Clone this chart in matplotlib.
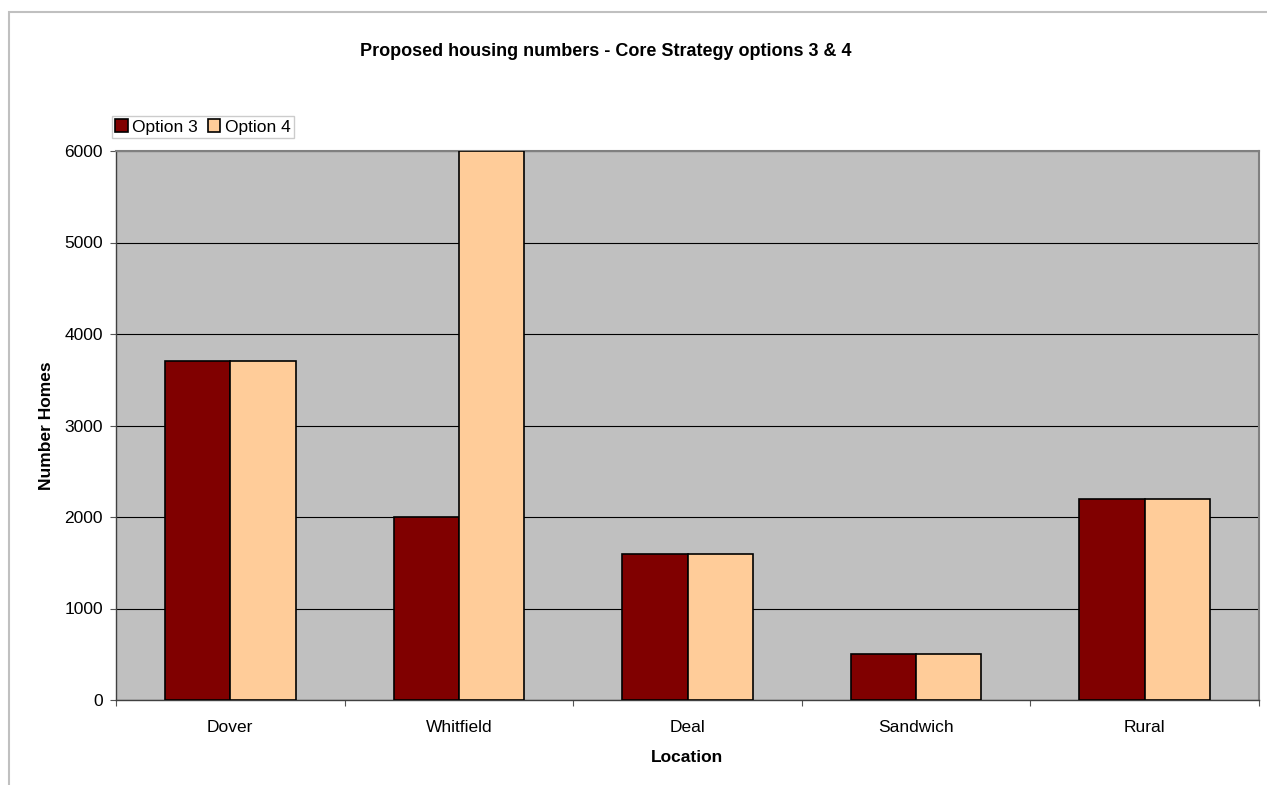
import numpy as np
import matplotlib.pyplot as plt
from matplotlib.patches import Rectangle

plt.rcParams['font.family'] = ['Liberation Sans', 'DejaVu Sans']

locations = ["Dover", "Whitfield", "Deal", "Sandwich", "Rural"]
option3 = [3700, 2000, 1600, 500, 2200]
option4 = [3700, 6000, 1600, 500, 2200]
y_ticks = [0, 1000, 2000, 3000, 4000, 5000, 6000]

W, H = 1267, 785
fig = plt.figure(figsize=(W / 100, H / 100), dpi=100)

# outer chart border (light grey, runs off the right and bottom)
fig.patches.append(Rectangle((9 / W, -0.1), 1.2, 1 - 12 / H + 0.1, transform=fig.transFigure,
                             fill=False, edgecolor="#c0c0c0", linewidth=1.5))

ax = fig.add_axes([116 / W, 1 - 700 / H, (1259 - 116) / W, (700 - 151) / H])
ax.set_facecolor("#c0c0c0")

x = np.arange(len(locations))
bw = 1 / 3.5
ax.bar(x - bw / 2, option3, bw, color="#800000", edgecolor="black", linewidth=1.2,
       label="Option 3", zorder=3)
ax.bar(x + bw / 2, option4, bw, color="#ffcc99", edgecolor="black", linewidth=1.2,
       label="Option 4", zorder=3)

ax.set_xlim(-0.5, len(locations) - 0.5)
ax.set_ylim(0, 6000)
ax.set_yticks(y_ticks)
ax.yaxis.grid(True, color="black", linewidth=0.8, zorder=1)
ax.set_axisbelow(True)

# category ticks sit on the boundaries between groups
ax.set_xticks(np.arange(len(locations) + 1) - 0.5)
ax.set_xticklabels([])
ax.set_xticks(x, minor=True)
ax.set_xticklabels(locations, minor=True)
ax.tick_params(axis="x", which="minor", length=0, pad=14.5, labelsize=12.5)
ax.tick_params(axis="x", which="major", length=4.5, color="#555555")
ax.tick_params(axis="y", length=4.5, color="#555555", labelsize=12.5, pad=5)

for side in ["top", "right"]:
    ax.spines[side].set_color("#808080")
    ax.spines[side].set_linewidth(1.5)
for side in ["left", "bottom"]:
    ax.spines[side].set_color("#404040")
    ax.spines[side].set_linewidth(1)

ax.set_xlabel("Location", fontsize=12.5, fontweight="bold", labelpad=11)
ax.set_ylabel("Number Homes", fontsize=12.5, fontweight="bold", labelpad=7)

fig.text(606 / W, 1 - 52 / H, "Proposed housing numbers - Core Strategy options 3 & 4",
         ha="center", va="center", fontsize=13, fontweight="bold")

leg = ax.legend(loc="lower left", bbox_to_anchor=(-0.0035, 0.0237 + 1), ncol=2, frameon=True,
                fancybox=False, fontsize=12.5, handlelength=0.7, handleheight=0.7,
                handletextpad=0.25, columnspacing=0.6, borderpad=0.2, borderaxespad=0)
leg.get_frame().set_edgecolor("#c0c0c0")
leg.get_frame().set_linewidth(1)

fig.savefig("out.png", dpi=100)
